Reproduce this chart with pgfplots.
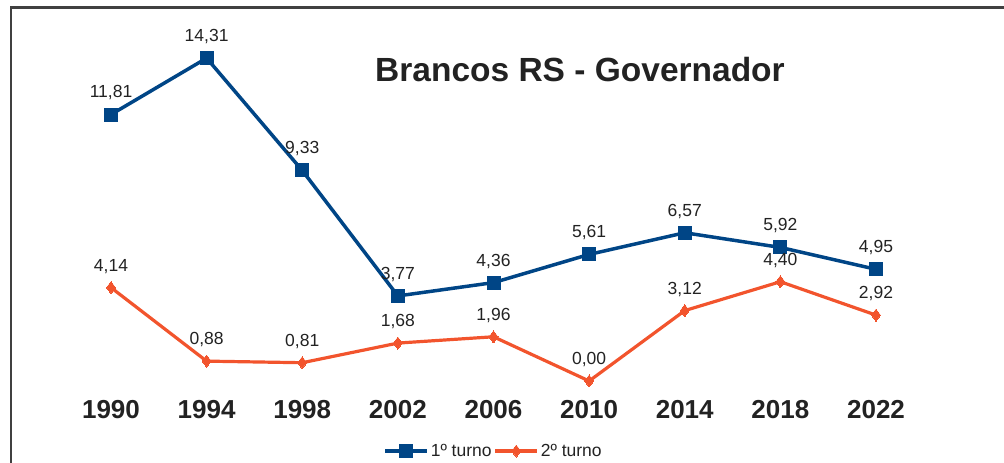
\documentclass[border=0pt]{standalone}
\usepackage{pgfplots}
\pgfplotsset{compat=1.18}
\usepackage{fontspec}
\setmainfont{Liberation Sans}
\definecolor{cblue}{HTML}{004586}
\definecolor{corange}{HTML}{F2542D}
\definecolor{ctext}{HTML}{222222}
\begin{document}
\begin{tikzpicture}[x=1bp,y=1bp]
\useasboundingbox (0,0) rectangle (1004,463);
\draw[line width=2.2bp,color=black!75] (11,-5) -- (11,455.5) -- (1010,455.5);
\begin{axis}[
  at={(111bp,82bp)}, anchor=origin,
  scale only axis, width=765bp, height=361bp,
  xmin=0, xmax=8, ymin=0, ymax=16,
  clip=false,
  axis line style={draw=none},
  major tick length=0pt,
  ytick=\empty,
  xtick={0,...,8},
  xticklabels={1990,1994,1998,2002,2006,2010,2014,2018,2022},
  xticklabel style={font=\fontsize{26bp}{28bp}\selectfont\bfseries, text=ctext, yshift=-16bp},
  /pgf/number format/assume math mode=true,
  nodes near coords,
  nodes near coords style={font=\fontsize{17.5bp}{19bp}\selectfont, text=ctext, anchor=south, yshift=11bp,
    /pgf/number format/.cd, use comma, fixed, fixed zerofill, precision=2},
  legend columns=2,
  legend style={draw=none, fill=none, at={(0.5,-0.194)}, anchor=center,
    font=\fontsize{17.5bp}{19bp}\selectfont, text=ctext,
    /tikz/every even column/.append style={column sep=0bp},
    inner sep=0pt, nodes={inner sep=2bp}},
  legend image code/.code={\draw[mark repeat=2,mark phase=2] plot coordinates {(0bp,0bp) (21bp,0bp) (42bp,0bp)};},
]
\addplot[color=cblue, line width=3.5bp, mark=square*, mark size=6.5bp, mark options={line width=0pt}]
  coordinates {(0,11.81) (1,14.31) (2,9.33) (3,3.77) (4,4.36) (5,5.61) (6,6.57) (7,5.92) (8,4.95)};
\addlegendentry{1º turno}
\addplot[color=corange, line width=3.2bp, mark=diamond*, mark size=6bp, mark options={line width=0pt}]
  coordinates {(0,4.14) (1,0.88) (2,0.81) (3,1.68) (4,1.96) (5,0.00) (6,3.12) (7,4.40) (8,2.92)};
\addlegendentry{2º turno}
\end{axis}
\node[font=\fontsize{33.5bp}{36bp}\selectfont\bfseries, text=ctext, anchor=base] at (580,381) {Brancos RS - Governador};
\end{tikzpicture}
\end{document}
